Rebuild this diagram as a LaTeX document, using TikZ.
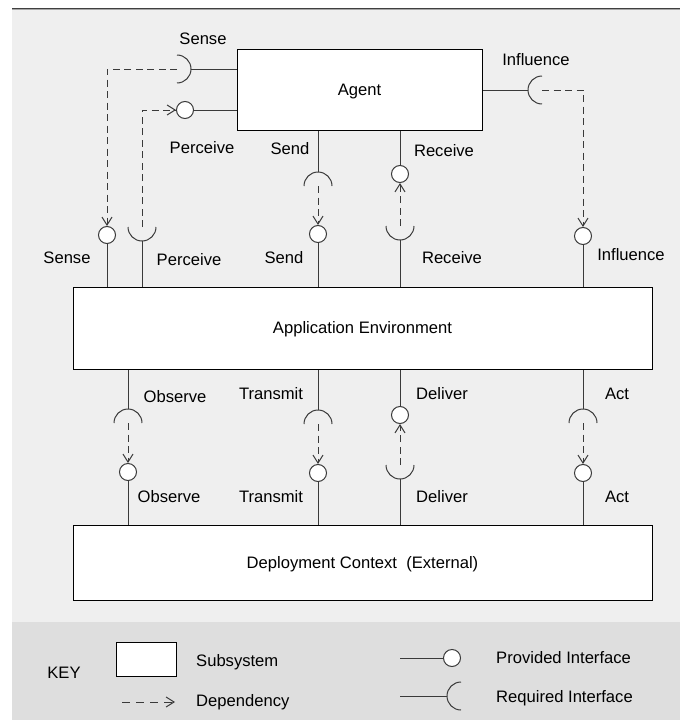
\documentclass[tikz,border=0pt]{standalone}
\usepackage{fontspec}
\setmainfont{Liberation Sans}
\usetikzlibrary{arrows.meta,calc}
\definecolor{bgpanel}{HTML}{EFEFEF}
\definecolor{bgkey}{HTML}{DEDEDE}
\definecolor{wirecol}{HTML}{3A3A3A}

% socket (required interface): name, centre, direction of the arc's apex
\newcommand\sockat[3]{%
  \coordinate (#1) at (#2);
  \coordinate (#1-a) at ($(#1)+({#3}:14)$);
  \draw[wire] (#1) ++({#3-90}:14) arc[start angle={#3-90}, delta angle=180, radius=14];}

\begin{document}
\begin{tikzpicture}[x=1pt,y=1pt,
  every node/.style={font=\fontsize{16.6}{19}\selectfont},
  box/.style={draw=black, fill=white, line width=1pt, rectangle, inner sep=0pt,
              text height=11.9pt, text depth=0pt},
  ball/.style={draw=wirecol, fill=white, circle, line width=1pt,
               minimum size=17pt, inner sep=0pt},
  lbl/.style={inner sep=0pt, text height=11.9pt, text depth=0pt},
  wire/.style={draw=wirecol, line width=1pt},
  dep/.style={wire, dash pattern=on 7pt off 4.5pt,
              -{Straight Barb[length=8pt,width=10pt]}},
]
\useasboundingbox (0,0) rectangle (680,-720);

% panels
\fill[bgpanel] (12,-9) rectangle (680,-720);
\fill[bgkey] (12,-622) rectangle (680,-720);
\draw[line width=1.2pt, black!75] (12,-8.4) -- (680,-8.4);
\draw[line width=0.8pt, black!35] (12,-9.8) -- (680,-9.8);

% subsystems
\node[box, minimum width=245pt, minimum height=81pt] (agent) at (359.5,-89.5) {Agent};
\node[box, minimum width=579pt, minimum height=82pt] (appenv) at (362.5,-328) {Application Environment};
\node[box, minimum width=579pt, minimum height=75pt] (deploy) at (362.5,-562.5) {Deployment Context\ \ (External)};

% ---- Agent <-> Application Environment ----
% Sense
\sockat{sSense}{177,-69}{0}
\draw[wire] (sSense-a) -- (sSense-a -| agent.west);
\node[ball] (bSense) at (107,-235) {};
\draw[dep] (sSense) -| (bSense.north);
\draw[wire] (bSense.south) -- (bSense.south |- appenv.north);

% Perceive
\node[ball] (bPerc) at (185,-110) {};
\draw[wire] (bPerc.east) -- (bPerc.east -| agent.west);
\sockat{sPerc}{142,-227}{-90}
\draw[wire] (sPerc-a) -- (sPerc-a |- appenv.north);
\draw[dep] (sPerc) |- (bPerc.west);

% Send
\sockat{sSend}{318,-186}{90}
\draw[wire] (sSend-a) -- (sSend-a |- agent.south);
\node[ball] (bSend) at (318,-234) {};
\draw[dep] (sSend) -- (bSend.north);
\draw[wire] (bSend.south) -- (bSend.south |- appenv.north);

% Receive
\node[ball] (bRecv) at (400,-174) {};
\draw[wire] (bRecv.north) -- (bRecv.north |- agent.south);
\sockat{sRecv}{400,-226}{-90}
\draw[dep] (sRecv) -- (bRecv.south);
\draw[wire] (sRecv-a) -- (sRecv-a |- appenv.north);

% Influence
\sockat{sInfl}{542,-90}{180}
\draw[wire] (sInfl-a) -- (sInfl-a -| agent.east);
\node[ball] (bInfl) at (583,-236) {};
\draw[dep] (sInfl) -| (bInfl.north);
\draw[wire] (bInfl.south) -- (bInfl.south |- appenv.north);

% ---- Application Environment <-> Deployment Context ----
% Observe
\sockat{sObs}{128,-423}{90}
\draw[wire] (sObs-a) -- (sObs-a |- appenv.south);
\node[ball] (bObs) at (128,-472) {};
\draw[dep] (sObs) -- (bObs.north);
\draw[wire] (bObs.south) -- (bObs.south |- deploy.north);

% Transmit
\sockat{sTrans}{318,-424}{90}
\draw[wire] (sTrans-a) -- (sTrans-a |- appenv.south);
\node[ball] (bTrans) at (318,-473) {};
\draw[dep] (sTrans) -- (bTrans.north);
\draw[wire] (bTrans.south) -- (bTrans.south |- deploy.north);

% Deliver
\node[ball] (bDel) at (400,-415) {};
\draw[wire] (bDel.north) -- (bDel.north |- appenv.south);
\sockat{sDel}{400,-465}{-90}
\draw[dep] (sDel) -- (bDel.south);
\draw[wire] (sDel-a) -- (sDel-a |- deploy.north);

% Act
\sockat{sAct}{583,-423}{90}
\draw[wire] (sAct-a) -- (sAct-a |- appenv.south);
\node[ball] (bAct) at (583,-473) {};
\draw[dep] (sAct) -- (bAct.north);
\draw[wire] (bAct.south) -- (bAct.south |- deploy.north);

% interface labels
\node[lbl] (tSenseA) at (203,-39) {Sense};
\node[lbl] (tPercA) at (202,-148) {Perceive};
\node[lbl] (tSendA) at (290,-149) {Send};
\node[lbl] (tRecvA) at (444,-151) {Receive};
\node[lbl] (tInflA) at (536,-60) {Influence};
\node[lbl] (tSenseE) at (67,-258) {Sense};
\node[lbl] (tPercE) at (189,-260) {Perceive};
\node[lbl] (tSendE) at (284,-258) {Send};
\node[lbl] (tRecvE) at (452,-258) {Receive};
\node[lbl] (tInflE) at (631,-255) {Influence};
\node[lbl] (tObsE) at (175,-397) {Observe};
\node[lbl] (tObsD) at (169,-497) {Observe};
\node[lbl] (tTransE) at (271,-394) {Transmit};
\node[lbl] (tTransD) at (271,-497) {Transmit};
\node[lbl] (tDelE) at (442,-394) {Deliver};
\node[lbl] (tDelD) at (442,-497) {Deliver};
\node[lbl] (tActE) at (617,-394) {Act};
\node[lbl] (tActD) at (617,-497) {Act};

% ---- key ----
\node[lbl] (keyt) at (64,-673) {KEY};
\node[box, minimum width=60pt, minimum height=34pt] (keybox) at (146,-659) {};
\node[lbl, anchor=west] (keysub) at (196,-661) {Subsystem};
\coordinate (kd1) at (122,-702);
\coordinate (kd2) at (175,-702);
\draw[dep, dash pattern=on 8pt off 6pt] (kd1) -- (kd2);
\node[lbl, anchor=west] (keydep) at (196,-701) {Dependency};
\coordinate (kp) at (400,-658);
\node[ball] (keyball) at (452,-658) {};
\draw[wire] (kp) -- (keyball.west);
\node[lbl, anchor=west] (keyprov) at (496,-658) {Provided Interface};
\coordinate (kr) at (400,-696);
\sockat{ksock}{461,-696}{180}
\draw[wire] (kr) -- (ksock-a);
\node[lbl, anchor=west] (keyreq) at (496,-697) {Required Interface};
\end{tikzpicture}
\end{document}
